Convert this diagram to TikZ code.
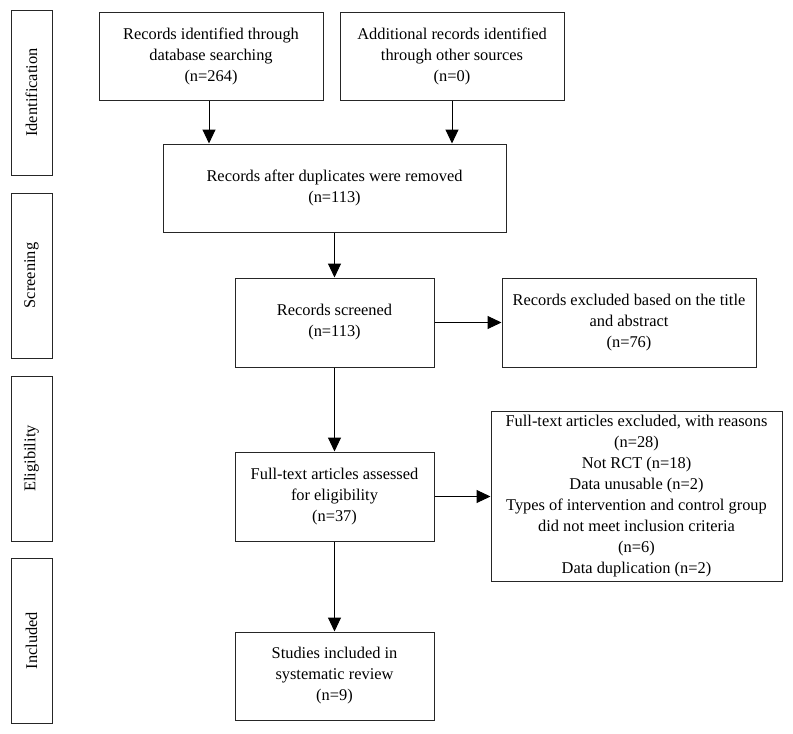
\documentclass[tikz,border=0pt]{standalone}
\usepackage{fontspec}
\setmainfont{Liberation Serif}
\usepackage{tikz}
\usetikzlibrary{arrows.meta,positioning}
\tikzset{block/.style={draw=black!85, rectangle, line width=1pt, align=center, inner sep=2pt, font=\fontsize{16.4}{21}\selectfont}}
\tikzset{phase/.style={draw=black!85, rectangle, line width=1pt, rotate=90, minimum width=165pt, minimum height=41pt, font=\fontsize{16.4}{21}\selectfont}}
\tikzset{flow/.style={line width=1pt, -{Triangle[width=13pt,length=14pt]}}}

\begin{document}
\begin{tikzpicture}[x=1pt, y=-1pt]
    \useasboundingbox (0,0) rectangle (793,734);
    \node[phase] at (31.5,92.5) (ident) {Identification};
    \node[phase] at (31.5,275.5) (screen) {Screening};
    \node[phase] at (31.5,458.5) (elig) {Eligibility};
    \node[phase] at (31.5,640.5) (incl) {Included};
    \node[block, minimum width=224pt, minimum height=88pt] at (211,56) (database) {Records identified through\\database searching\\(n=264)};
    \node[block, minimum width=224pt, minimum height=88pt] at (452,56) (other) {Additional records identified\\through other sources\\(n=0)};
    \node[block, minimum width=343pt, minimum height=88pt] at (334.5,188) (dedup) {Records after duplicates were removed\\(n=113)};
    \node[block, minimum width=199pt, minimum height=89pt] at (334.5,322.5) (screened) {Records screened\\(n=113)};
    \node[block, minimum width=254pt, minimum height=89pt, right of=screened, node distance=294.5pt] (titleout) {Records excluded based on the title\\and abstract\\(n=76)};
    \node[block, minimum width=199pt, minimum height=89pt] at (334.5,496.5) (fulltext) {Full-text articles assessed\\for eligibility\\(n=37)};
    \node[block, minimum width=291pt, minimum height=170pt, right of=fulltext, node distance=302pt] (reasons) {Full-text articles excluded, with reasons\\(n=28)\\Not RCT (n=18)\\Data unusable (n=2)\\Types of intervention and control group\\did not meet inclusion criteria\\(n=6)\\Data duplication (n=2)};
    \node[block, minimum width=199pt, minimum height=88pt] at (334.5,676) (included) {Studies included in\\systematic review\\(n=9)};
    \draw [flow] ([xshift=-2pt]database.south) -- ([xshift=-2pt]database.south |- dedup.north);
    \draw [flow] (other.south) -- (other.south |- dedup.north);
    \draw [flow] (dedup) -- (screened);
    \draw [flow] (screened) -- (titleout);
    \draw [flow] (screened) -- (fulltext);
    \draw [flow] (fulltext) -- (reasons.west |- fulltext);
    \draw [flow] (fulltext) -- (included);
\end{tikzpicture}
\end{document}
